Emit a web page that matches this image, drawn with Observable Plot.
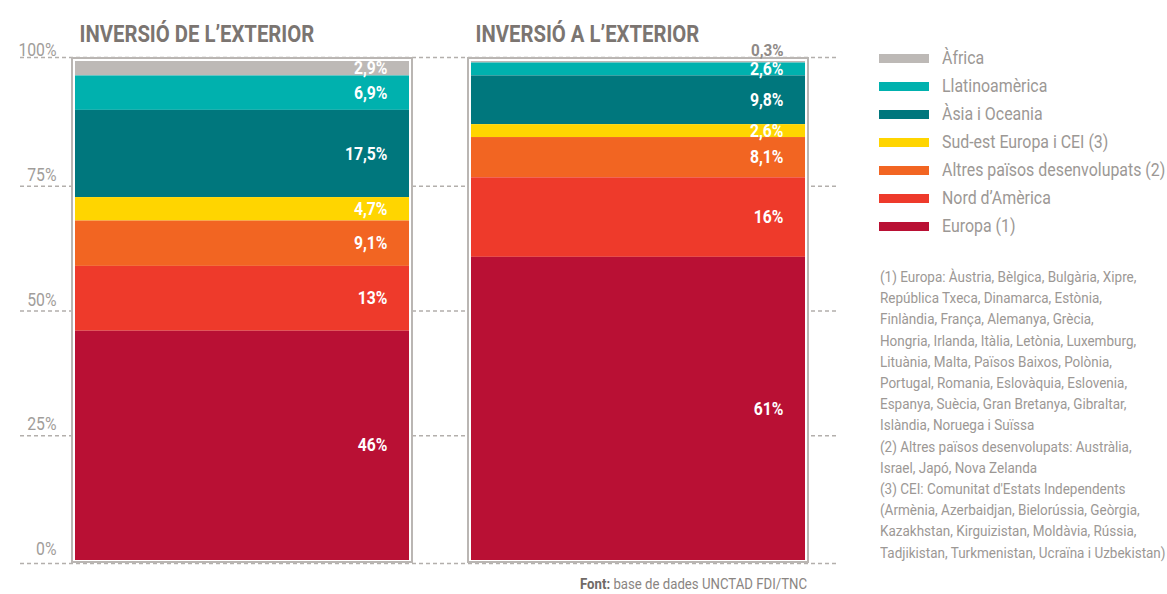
<!DOCTYPE html>
<html>
<head>
<meta charset="utf-8">
<script src="https://cdn.jsdelivr.net/npm/d3@7"></script>
<script src="https://cdn.jsdelivr.net/npm/@observablehq/plot@0.6"></script>
<style>
  html, body { margin: 0; padding: 0; background: #fff; }
  body { font-family: Roboto, "DejaVu Sans Condensed", sans-serif; }
  #wrap { position: relative; width: 1167px; height: 594px; overflow: hidden; }
  #chart { position: absolute; left: 0; top: 0; }
  #legend { position: absolute; left: 879px; top: 45px; }
  .row { position: relative; height: 28px; }
  .sw { position: absolute; left: 0; top: 9px; width: 50px; height: 9px; }
  .lab { position: absolute; left: 63px; top: 0; font-size: 18.5px; color: #9c9895; white-space: nowrap; line-height: 26px; }
  .c { display: inline-block; transform-origin: 0 50%; }
  #notes { position: absolute; left: 880px; top: 267px; font-size: 15.5px; line-height: 21.2px; color: #9c9895; white-space: nowrap; }
  #source { position: absolute; right: 360px; top: 575px; font-size: 15px; color: #8a8582; white-space: nowrap; }
  #source .c { transform-origin: 100% 50%; }
  #source b { color: #6f6a66; font-weight: bold; }
</style>
</head>
<body>
<div id="wrap">
  <div id="chart"></div>
  <div id="legend"></div>
  <div id="notes"></div>
  <div id="source"><span class="c"><b>Font:</b> base de dades UNCTAD FDI/TNC</span></div>
</div>
<script>
// ---- data ----
const panels = ["INVERSIÓ DE L’EXTERIOR", "INVERSIÓ A L’EXTERIOR"];
const regions = ["Àfrica", "Llatinoamèrica", "Àsia i Oceania", "Sud-est Europa i CEI (3)", "Altres països desenvolupats (2)", "Nord d’Amèrica", "Europa (1)"];
const colors = ["#bdb9b6", "#00b1ae", "#00777d", "#ffd500", "#f26522", "#ee3a2b", "#b91034"];
const inward = [2.9, 6.9, 17.5, 4.7, 9.1, 13, 46];
const outward = [0.3, 2.6, 9.8, 2.6, 8.1, 16, 61];
const yTicks = [0, 0.25, 0.5, 0.75, 1];
const yTickLabels = ["0%", "25%", "50%", "75%", "100%"];
const notes = [
  "(1) Europa: Àustria, Bèlgica, Bulgària, Xipre,",
  "República Txeca, Dinamarca, Estònia,",
  "Finlàndia, França, Alemanya, Grècia,",
  "Hongria, Irlanda, Itàlia, Letònia, Luxemburg,",
  "Lituània, Malta, Països Baixos, Polònia,",
  "Portugal, Romania, Eslovàquia, Eslovenia,",
  "Espanya, Suècia, Gran Bretanya, Gibraltar,",
  "Islàndia, Noruega i Suïssa",
  "(2) Altres països desenvolupats: Austràlia,",
  "Israel, Japó, Nova Zelanda",
  "(3) CEI: Comunitat d'Estats Independents",
  "(Armènia, Azerbaidjan, Bielorússia, Geòrgia,",
  "Kazakhstan, Kirguizistan, Moldàvia, Rússia,",
  "Tadjikistan, Turkmenistan, Ucraïna i Uzbekistan)"
];

// ---- table built from arrays ----
const series = [inward, outward];
const data = [];
panels.forEach((p, pi) => regions.forEach((r, ri) => data.push({panel: p, region: r, value: series[pi][ri]})));
const fmt = v => String(v).replace(".", ",") + "%";
const order = regions.slice().reverse();
const FONT = 'Roboto, "DejaVu Sans Condensed", sans-serif';

const stackOpts = {x: "panel", y: "value", z: "region", order, offset: "normalize"};

const chart = Plot.plot({
  width: 850,
  height: 594,
  marginLeft: 74,
  marginRight: 44,
  marginTop: 61,
  marginBottom: 34,
  style: {fontFamily: FONT, background: "transparent", overflow: "visible"},
  x: {domain: panels, paddingInner: 0.156, paddingOuter: 0, axis: null},
  y: {domain: [0, 1], axis: null},
  color: {domain: regions, range: colors},
  marks: [
    Plot.ruleY(yTicks.filter(t => t > 0 && t < 1), {stroke: "#b3afac", strokeWidth: 1.5, strokeDasharray: "4,3", insetLeft: -54, insetRight: -32}),
    Plot.ruleY([1], {stroke: "#b3afac", strokeWidth: 1.5, strokeDasharray: "4,3", insetLeft: -54, insetRight: -32, dy: -4}),
    Plot.ruleY([0], {stroke: "#b3afac", strokeWidth: 1.5, strokeDasharray: "4,3", insetLeft: -54, insetRight: -32, dy: 3}),
    Plot.text(yTicks.map((t, i) => ({t, label: yTickLabels[i]})), {
      y: "t", text: "label", frameAnchor: "left", dx: -18, dy: -11, textAnchor: "end",
      fill: "#a19d9a", fontSize: 17.5, className: "sq90"
    }),
    Plot.barY(panels, {x: d => d, y1: 0, y2: 1, fill: "white", stroke: "#bab6b3", strokeWidth: 2,
      insetLeft: -3, insetRight: -3, insetTop: -3, insetBottom: -2}),
    Plot.barY(data, Plot.stackY({...stackOpts, fill: "region"})),
    Plot.text(data, Plot.stackY({...stackOpts,
      text: d => d.value >= 1 ? fmt(d.value) : null,
      textAnchor: "end", dx: 145, fill: "white", fontWeight: "bold", fontSize: 17.5, className: "sq88"})),
    Plot.text(data, Plot.stackY({...stackOpts,
      text: d => d.value < 1 ? fmt(d.value) : null,
      textAnchor: "end", dx: 145, dy: -12, fill: "#8f8a87", fontWeight: "bold", fontSize: 17, className: "sq88"})),
    Plot.text(panels, {x: d => d, text: d => d, frameAnchor: "top", dy: -37, dx: -163, textAnchor: "start",
      fill: "#7b7571", fontWeight: "bold", fontSize: 24, className: "sq84"})
  ]
});
document.getElementById("chart").appendChild(chart);
// condense SVG texts horizontally (condensed typeface look)
[["sq90", 0.9], ["sq88", 0.9], ["sq84", 0.845]].forEach(([cls, k]) => {
  chart.querySelectorAll(`g.${cls} text`).forEach(t => {
    const len = t.getComputedTextLength();
    if (len > 0) {
      t.setAttribute("textLength", (len * k).toFixed(1));
      t.setAttribute("lengthAdjust", "spacingAndGlyphs");
    }
  });
});

// legend
const leg = document.getElementById("legend");
regions.forEach((r, i) => {
  const row = document.createElement("div");
  row.className = "row";
  row.innerHTML = `<div class="sw" style="background:${colors[i]}"></div><div class="lab"><span class="c" style="transform:scaleX(0.86)">${r}</span></div>`;
  leg.appendChild(row);
});
document.getElementById("notes").innerHTML = notes.map(n => `<div><span class="c" style="transform:scaleX(0.87)">${n}</span></div>`).join("");
document.querySelector("#source .c").style.transform = "scaleX(0.88)";
</script>
</body>
</html>
